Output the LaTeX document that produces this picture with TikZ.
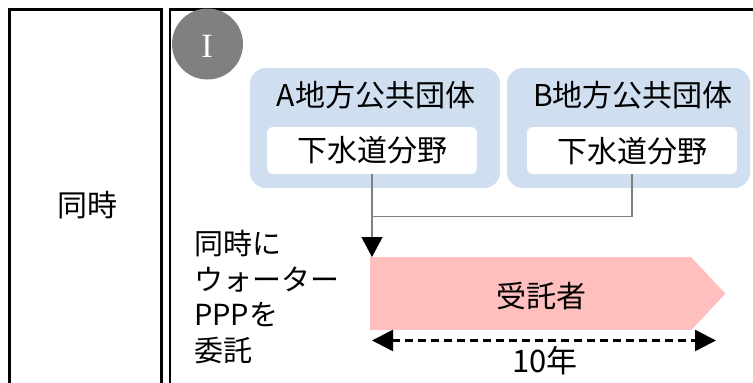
\documentclass[tikz,border=0pt]{standalone}
\usepackage{fontspec}
\setmainfont{Noto Sans CJK JP}
\newfontfamily\romanfont{Liberation Serif}
\usetikzlibrary{arrows.meta,calc}
\definecolor{govblue}{RGB}{208,223,239}
\definecolor{pinkc}{RGB}{255,191,191}
\definecolor{circgray}{RGB}{128,128,128}
\definecolor{linegray}{RGB}{128,128,128}
\tikzset{
  frame/.style={draw=black,line width=2.2pt},
  govbox/.style={fill=govblue,rounded corners=16pt,minimum height=120pt,inner sep=0pt},
  fieldbox/.style={fill=white,rounded corners=6pt,minimum width=210pt,minimum height=47pt,inner sep=0pt},
  bigtext/.style={font=\fontsize{30}{36}\selectfont,inner sep=0pt},
  conn/.style={draw=linegray,line width=1.2pt},
  tipdown/.style={-{Triangle[length=20pt,width=21pt,color=black]}},
  spanarrow/.style={line width=2.4pt,dash pattern=on 8pt off 5pt,{Triangle[length=21pt,width=21pt]}-{Triangle[length=21pt,width=21pt]}}
}
\begin{document}
\begin{tikzpicture}[x=1pt,y=-1pt]
\useasboundingbox (0,0) rectangle (753,383);
\clip (0,0) rectangle (753,383);
% frames
\draw[frame] (9.5,9.5) rectangle (161.5,400);
\draw[frame] (170,9.5) rectangle (780,400);
\node[bigtext] (label) at (87,205) {同時};
% circle marker
\node[circle,fill=circgray,minimum size=71pt,inner sep=0pt] (num) at (207.5,44) {};
\node[text=white,font=\romanfont\fontsize{34}{34}\selectfont,inner sep=0pt] (numtext) at (207,46.5) {I};
% government boxes
\node[govbox,minimum width=250pt] (A) at (375,128) {};
\node[govbox,minimum width=243pt] (B) at (628.5,128) {};
\node[bigtext] (Ahead) at (376,95.5) {A地方公共団体};
\node[bigtext] (Bhead) at (633,95) {B地方公共団体};
\node[fieldbox] (Ain) at (372,150.5) {};
\node[fieldbox] (Bin) at (632,150.5) {};
\node[bigtext] (Afield) at (372.5,150) {下水道分野};
\node[bigtext] (Bfield) at (632.5,151) {下水道分野};
% contractor arrow shape
\node[fill=pinkc,minimum width=321pt,minimum height=73pt,inner sep=0pt,anchor=north west] (pink) at (370,257) {};
\coordinate (tip) at ($(pink.east)+(34,0)$);
\fill[pinkc] ($(pink.north east)+(-0.5,0)$) -- (tip) -- ($(pink.south east)+(-0.5,0)$) -- cycle;
\node[bigtext] (contractor) at (541,296) {受託者};
% connectors
\coordinate (join) at ($(Ain.south)+(0,42)$);
\draw[conn] (Bin.south) |- (join);
\draw[conn,tipdown] (Ain.south) -- (Ain.south |- pink.north);
% left text
\node[bigtext,font=\fontsize{29}{35.7}\selectfont,align=left,anchor=north west] (desc) at (194,230) {同時に\\ウォーター\\PPPを\\委託};
% period arrow
\coordinate (pstart) at (372,340.5);
\coordinate (pend) at (716,340.5);
\draw[spanarrow] (pstart) -- (pend);
\node[bigtext,font=\fontsize{31}{36}\selectfont] (years) at (545,361) {10年};
\end{tikzpicture}
\end{document}
